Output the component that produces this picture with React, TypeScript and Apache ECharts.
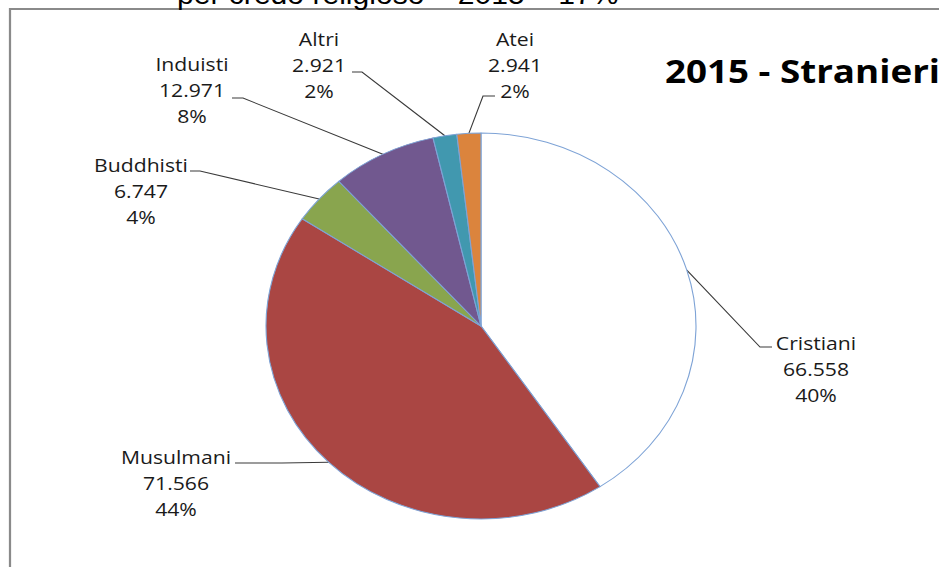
import React, { useEffect, useRef } from "react";
import * as echarts from "echarts";

const categories = ["Cristiani", "Musulmani", "Buddhisti", "Induisti", "Altri", "Atei"];
const values = [66558, 71566, 6747, 12971, 2921, 2941];
const percentLabels = ["40%", "44%", "4%", "8%", "2%", "2%"];
const sliceColors = ["#FFFFFF", "#AA4643", "#89A54E", "#71588F", "#4198AF", "#DB843D"];
const titleText = "2015 - Stranieri";
const headerText = "per credo religioso – 2015 – 17%";

// the reference picture is stretched horizontally
const SX = 1.114;
const PAGE_W = 939;
const PAGE_H = 567;
const W = PAGE_W / SX;

// label placement (page pixels): label centre, leader bend and leader end
const labelLayouts = [
  { cx: 816, cy: 369, bend: [760, 347], end: [772, 347] },
  { cx: 176, cy: 483, bend: [282, 463], end: [235, 463] },
  { cx: 141, cy: 191, bend: [200, 171], end: [190, 171] },
  { cx: 192, cy: 90, bend: [243, 98], end: [232, 98] },
  { cx: 319, cy: 65, bend: [362, 72], end: [352, 72] },
  { cx: 515, cy: 65, bend: [483, 96], end: [495, 96] },
];

function fmtIt(v: number): string {
  const s = String(Math.round(v));
  return s.replace(/\B(?=(\d{3})+(?!\d))/g, ".");
}

export default function App() {
  const ref = useRef<HTMLDivElement>(null);
  useEffect(() => {
    if (!ref.current) return;
    const chart = echarts.init(ref.current, null, { renderer: "svg" });
    chart.setOption({
      animation: false,
      backgroundColor: "#ffffff",
      graphic: [
        {
          type: "rect",
          shape: { x: 10 / SX, y: 9, width: W + 20, height: PAGE_H + 20 },
          style: { fill: "none", stroke: "#8a8a8a", lineWidth: 2 },
          silent: true,
        },
        {
          type: "text",
          x: 177 / SX,
          y: 8,
          style: {
            text: headerText,
            font: "27px 'Liberation Sans', Arial, sans-serif",
            fill: "#000",
            verticalAlign: "bottom",
            align: "left",
          },
          silent: true,
        },
        {
          type: "text",
          x: 665 / SX,
          y: 70,
          style: {
            text: titleText,
            font: "bold 33px 'Open Sans', sans-serif",
            fill: "#000",
            verticalAlign: "middle",
            align: "left",
          },
          silent: true,
        },
      ],
      series: [
        {
          type: "pie",
          center: [481 / SX, 326],
          radius: 193,
          startAngle: 90,
          clockwise: true,
          avoidLabelOverlap: false,
          emphasis: { disabled: true },
          itemStyle: { borderColor: "#7EA3D6", borderWidth: 1 },
          label: {
            show: true,
            position: "outside",
            fontFamily: "'Open Sans', sans-serif",
            fontSize: 19,
            lineHeight: 26,
            color: "#1a1a1a",
            align: "center",
            formatter: (p: any) =>
              `${p.name}\n${fmtIt(p.value)}\n${percentLabels[p.dataIndex]}`,
          },
          labelLine: {
            show: true,
            length: 20,
            length2: 10,
            lineStyle: { color: "#3a3a3a", width: 1 },
          },
          labelLayout: (params: any) => {
            const L = labelLayouts[params.dataIndex];
            const p0 = params.labelLinePoints ? params.labelLinePoints[0] : null;
            const out: any = {
              x: L.cx / SX,
              y: L.cy,
              align: "center",
              verticalAlign: "middle",
            };
            if (p0) {
              out.labelLinePoints = [
                p0,
                [L.bend[0] / SX, L.bend[1]],
                [L.end[0] / SX, L.end[1]],
              ];
            }
            return out;
          },
          data: categories.map((name, i) => ({
            name,
            value: values[i],
            itemStyle: { color: sliceColors[i] },
          })),
        },
      ],
    });
    return () => chart.dispose();
  }, []);

  return (
    <div
      style={{
        position: "absolute",
        left: 0,
        top: 0,
        width: PAGE_W,
        height: PAGE_H,
        overflow: "hidden",
        background: "#fff",
      }}
    >
      <div
        ref={ref}
        style={{
          width: W,
          height: PAGE_H,
          transform: `scaleX(${SX})`,
          transformOrigin: "0 0",
        }}
      />
    </div>
  );
}
